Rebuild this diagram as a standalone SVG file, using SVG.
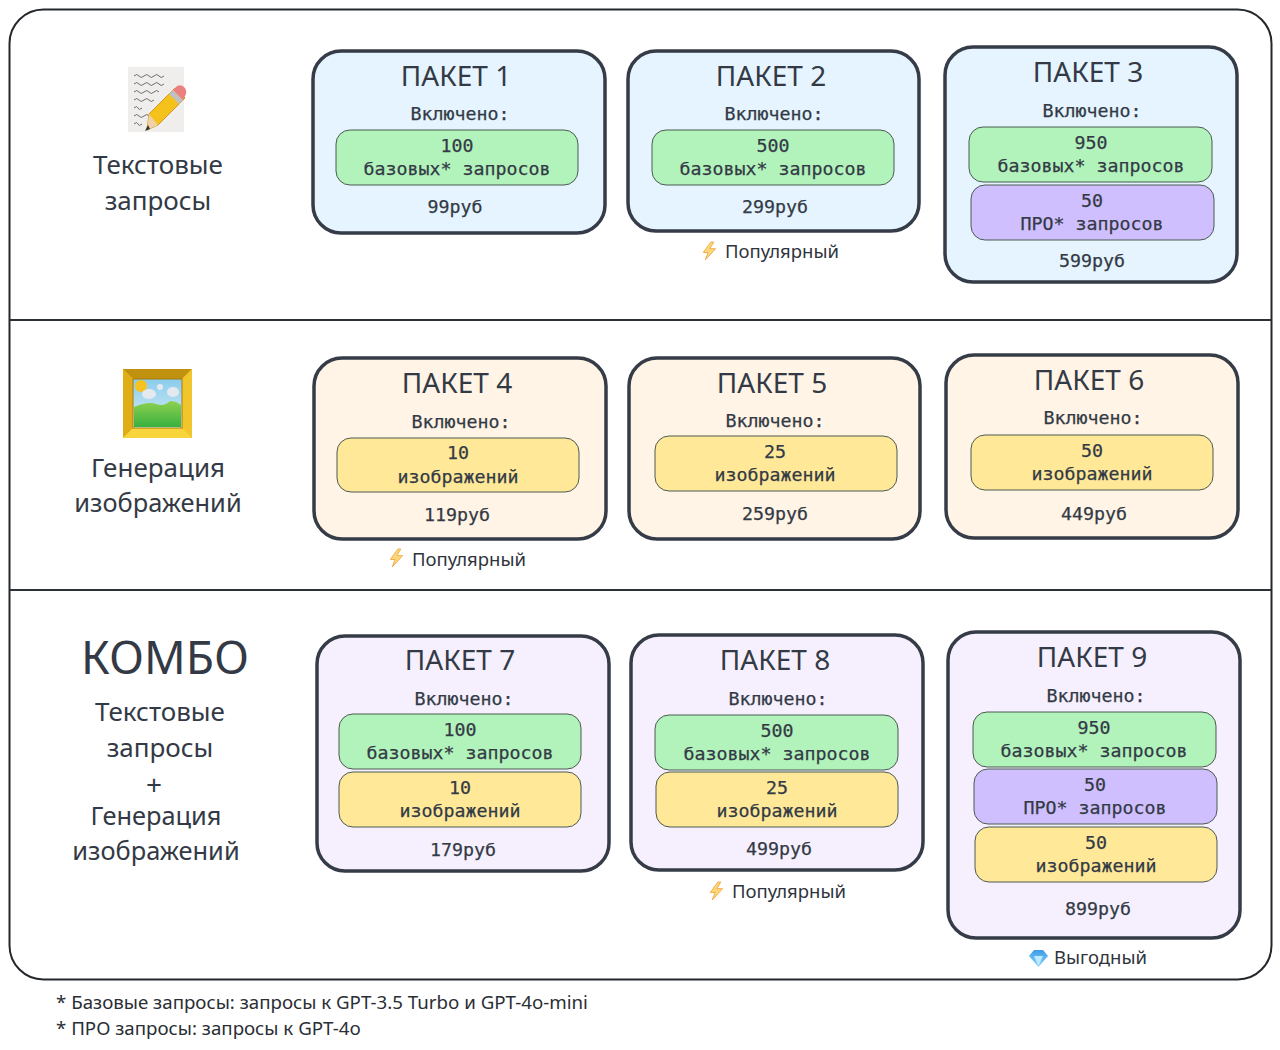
<svg xmlns="http://www.w3.org/2000/svg" width="1280" height="1050" viewBox="0 0 1280 1050">
<style>
text{font-family:"Noto Sans","DejaVu Sans",sans-serif;fill:#333a45;text-anchor:middle}
.card{stroke:#363c47;stroke-width:3.5}
.blue{fill:#e5f4ff}.cream{fill:#fff4e6}.lilac{fill:#f6f0fe}
.pill{stroke:#4b5a50;stroke-width:1}
.g{fill:#b2f2bb}.p{fill:#d0bfff}.y{fill:#ffe999}
.t{font-size:28px}
.m{font-family:"DejaVu Sans Mono","Liberation Mono",monospace;font-size:18.3px;stroke:#333a45;stroke-width:.25}
.side{font-size:26px}
.wide{font-size:25.4px}
.tag{font-size:18.5px;fill:#2f343c;text-anchor:start}
.note{font-size:18.7px;fill:#2a2e35;text-anchor:start}
.bolt{fill:#fbd877;stroke:#f2a94d;stroke-width:1}
.ink{stroke:#6f6b66;stroke-width:1;fill:none}
</style>
<defs>
<linearGradient id="sky" x1="0" y1="0" x2="0" y2="1"><stop offset="0" stop-color="#8accec"/><stop offset="1" stop-color="#dceff4"/></linearGradient>
<linearGradient id="grass" x1="0" y1="0" x2="0" y2="1"><stop offset="0" stop-color="#8fd14f"/><stop offset="1" stop-color="#38b040"/></linearGradient>
<linearGradient id="gem" x1="0" y1="0" x2="0" y2="1"><stop offset="0" stop-color="#3a9be8"/><stop offset="1" stop-color="#8fd6fb"/></linearGradient>
<symbol id="boltS" viewBox="0 0 16 20" overflow="visible"><polygon class="bolt" points="10,0 2,11 7,11 4,19 15,7 9,7 13,0"/></symbol>
</defs>

<g id="frame-outer">
<rect x="9.5" y="9.5" width="1262" height="970" rx="34" fill="#fff" stroke="#24272c" stroke-width="2"/>
<path d="M10 320H1271M10 590H1271" stroke="#2c3037" stroke-width="2" fill="none"/>
</g>

<g id="icon-text">
<rect x="128" y="67" width="56" height="65" fill="#efeeec"/>
<path class="ink" d="M134 76q3-3 5 0t5 0 5 0 5 0 5 0 5 0M134 84q3-3 5 0t5 0 5 0 5 0 5 0 5 0M134 92q3-3 5 0t5 0 5 0 5 0 5 0M134 100q3-3 5 0t5 0 5 0 5 0M134 108q3-3 4 0t4 0M134 116q3-3 5 0t5 0 5 0M134 124q3-3 4 0t4 0"/>
<polygon points="175,88 185,98 158,125 147,130 149,114" fill="#f5c21b" stroke="#d3941a" stroke-width="1"/>
<polygon points="149,114 158,125 147,130" fill="#efd2a8"/>
<polygon points="148,125 150,129 145,131" fill="#333"/>
<polygon points="173,90 183,100 179,104 169,94" fill="#c0c0c4"/>
<path d="M173 90l4-4q4-2 7 1t2 7l-3 6z" fill="#ea8080"/>
</g>
<g id="label-text">
<text class="side" x="158" y="174">Текстовые</text>
<text class="side" x="158" y="210">запросы</text>
</g>

<g id="icon-image">
<rect x="123" y="369" width="69" height="69" fill="#e8b91f"/>
<polygon points="123,369 192,369 182,379 133,379" fill="#c1920f"/>
<polygon points="123,369 133,379 133,428 123,438" fill="#e0ad17"/>
<polygon points="192,369 182,379 182,428 192,438" fill="#f0c62c"/>
<polygon points="123,438 133,428 182,428 192,438" fill="#f8d53c"/>
<rect x="133" y="379" width="49" height="49" fill="url(#sky)" stroke="#a77a0a"/>
<circle cx="141" cy="386" r="6" fill="#f7c21f"/>
<ellipse cx="149" cy="394" rx="7" ry="5" fill="#e4e9ef"/>
<ellipse cx="160" cy="387" rx="3" ry="3" fill="#e4e9ef"/>
<ellipse cx="173" cy="392" rx="6" ry="5" fill="#e4e9ef"/>
<path d="M134 407q14-6 22-3t14-3q6 0 11 4v22h-47z" fill="url(#grass)"/>
</g>
<g id="label-image">
<text class="side" x="158" y="477">Генерация</text>
<text class="wide" x="158" y="512">изображений</text>
</g>

<g id="label-combo">
<text x="165" y="674" font-size="46">КОМБО</text>
<text class="side" x="160" y="721">Текстовые</text>
<text class="side" x="160" y="757">запросы</text>
<text x="154" y="795" font-size="28">+</text>
<text class="wide" x="156" y="825">Генерация</text>
<text class="wide" x="156" y="860">изображений</text>
</g>

<g id="card-1">
<rect class="card blue" x="313" y="51" width="292" height="182" rx="28"/>
<text class="t" x="456" y="86">ПАКЕТ 1</text>
<text class="m" x="460" y="120">Включено:</text>
<rect class="pill g" x="336" y="130" width="242" height="55" rx="14"/>
<text class="m" x="457" y="152">100</text>
<text class="m" x="457" y="175">базовых* запросов</text>
<text class="m" x="455" y="213">99руб</text>
</g>
<g id="card-2">
<rect class="card blue" x="628" y="51" width="291" height="180" rx="28"/>
<text class="t" x="771" y="86">ПАКЕТ 2</text>
<text class="m" x="774" y="120">Включено:</text>
<rect class="pill g" x="652" y="130" width="242" height="55" rx="14"/>
<text class="m" x="773" y="152">500</text>
<text class="m" x="773" y="175">базовых* запросов</text>
<text class="m" x="775" y="213">299руб</text>
</g>
<g id="tag-2">
<use href="#boltS" x="701" y="242" width="16" height="19"/>
<text class="tag" x="725" y="258">Популярный</text>
</g>
<g id="card-3">
<rect class="card blue" x="945" y="47" width="292" height="235" rx="28"/>
<text class="t" x="1088" y="82">ПАКЕТ 3</text>
<text class="m" x="1092" y="117">Включено:</text>
<rect class="pill g" x="969" y="127" width="243" height="55" rx="14"/>
<text class="m" x="1091" y="149">950</text>
<text class="m" x="1091" y="172">базовых* запросов</text>
<rect class="pill p" x="971" y="185" width="243" height="55" rx="14"/>
<text class="m" x="1092" y="207">50</text>
<text class="m" x="1092" y="230">ПРО* запросов</text>
<text class="m" x="1092" y="267">599руб</text>
</g>

<g id="card-4">
<rect class="card cream" x="314" y="358" width="292" height="181" rx="28"/>
<text class="t" x="457" y="393">ПАКЕТ 4</text>
<text class="m" x="461" y="428">Включено:</text>
<rect class="pill y" x="337" y="438" width="242" height="54" rx="14"/>
<text class="m" x="458" y="459">10</text>
<text class="m" x="458" y="483">изображений</text>
<text class="m" x="457" y="521">119руб</text>
</g>
<g id="tag-4">
<use href="#boltS" x="388" y="549" width="16" height="19"/>
<text class="tag" x="412" y="566">Популярный</text>
</g>
<g id="card-5">
<rect class="card cream" x="629" y="358" width="291" height="181" rx="28"/>
<text class="t" x="772" y="393">ПАКЕТ 5</text>
<text class="m" x="775" y="427">Включено:</text>
<rect class="pill y" x="655" y="436" width="242" height="55" rx="14"/>
<text class="m" x="775" y="458">25</text>
<text class="m" x="775" y="481">изображений</text>
<text class="m" x="775" y="520">259руб</text>
</g>
<g id="card-6">
<rect class="card cream" x="946" y="355" width="292" height="183" rx="28"/>
<text class="t" x="1089" y="390">ПАКЕТ 6</text>
<text class="m" x="1093" y="424">Включено:</text>
<rect class="pill y" x="971" y="435" width="242" height="55" rx="14"/>
<text class="m" x="1092" y="457">50</text>
<text class="m" x="1092" y="480">изображений</text>
<text class="m" x="1094" y="520">449руб</text>
</g>

<g id="card-7">
<rect class="card lilac" x="317" y="636" width="292" height="235" rx="28"/>
<text class="t" x="460" y="670">ПАКЕТ 7</text>
<text class="m" x="464" y="705">Включено:</text>
<rect class="pill g" x="339" y="714" width="242" height="55" rx="14"/>
<text class="m" x="460" y="736">100</text>
<text class="m" x="460" y="759">базовых* запросов</text>
<rect class="pill y" x="339" y="772" width="242" height="55" rx="14"/>
<text class="m" x="460" y="794">10</text>
<text class="m" x="460" y="817">изображений</text>
<text class="m" x="463" y="856">179руб</text>
</g>
<g id="card-8">
<rect class="card lilac" x="631" y="635" width="292" height="235" rx="28"/>
<text class="t" x="775" y="670">ПАКЕТ 8</text>
<text class="m" x="778" y="705">Включено:</text>
<rect class="pill g" x="655" y="715" width="243" height="55" rx="14"/>
<text class="m" x="777" y="737">500</text>
<text class="m" x="777" y="760">базовых* запросов</text>
<rect class="pill y" x="656" y="772" width="242" height="55" rx="14"/>
<text class="m" x="777" y="794">25</text>
<text class="m" x="777" y="817">изображений</text>
<text class="m" x="779" y="855">499руб</text>
</g>
<g id="tag-8">
<use href="#boltS" x="708" y="882" width="16" height="19"/>
<text class="tag" x="732" y="898">Популярный</text>
</g>
<g id="card-9">
<rect class="card lilac" x="948" y="632" width="292" height="306" rx="28"/>
<text class="t" x="1092" y="667">ПАКЕТ 9</text>
<text class="m" x="1096" y="702">Включено:</text>
<rect class="pill g" x="973" y="712" width="243" height="55" rx="14"/>
<text class="m" x="1094" y="734">950</text>
<text class="m" x="1094" y="757">базовых* запросов</text>
<rect class="pill p" x="974" y="769" width="243" height="55" rx="14"/>
<text class="m" x="1095" y="791">50</text>
<text class="m" x="1095" y="814">ПРО* запросов</text>
<rect class="pill y" x="975" y="827" width="242" height="55" rx="14"/>
<text class="m" x="1096" y="849">50</text>
<text class="m" x="1096" y="872">изображений</text>
<text class="m" x="1098" y="915">899руб</text>
</g>
<g id="tag-9">
<polygon points="1034,950 1043,950 1048,956 1038.500,967 1029,956" fill="url(#gem)"/>
<polygon points="1034,956 1043,956 1038.500,966" fill="#bfe9ff"/>
<text class="tag" x="1054" y="964">Выгодный</text>
</g>

<g id="notes">
<text class="note" x="56" y="1009">* Базовые запросы: запросы к GPT-3.5 Turbo и GPT-4o-mini</text>
<text class="note" x="56" y="1035">* ПРО запросы: запросы к GPT-4o</text>
</g>
<g id="connectors"></g>
</svg>
